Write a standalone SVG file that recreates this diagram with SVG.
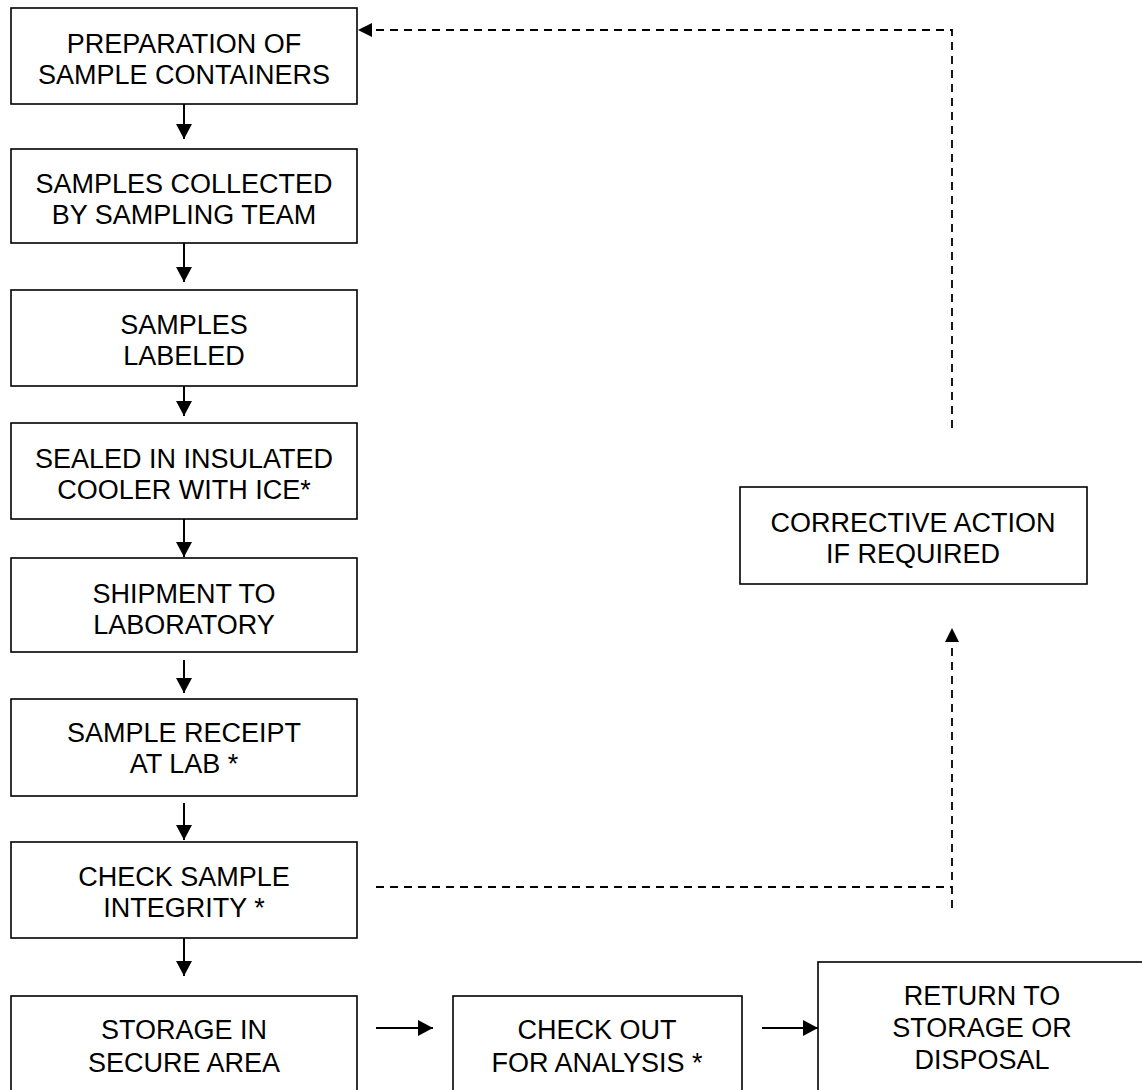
<svg xmlns="http://www.w3.org/2000/svg" width="1142" height="1090" viewBox="0 0 1142 1090">
<defs>
<style>
.box{fill:#fff;stroke:#000;stroke-width:1.6}
.t{font-family:"Liberation Sans",Arial,sans-serif;font-size:27px;fill:#000;text-anchor:middle}
.sol{stroke:#000;stroke-width:2;fill:none}
.dash{stroke:#000;stroke-width:1.8;fill:none;stroke-dasharray:8 6}
</style>
<marker id="ah" markerUnits="userSpaceOnUse" markerWidth="16" markerHeight="16" refX="15" refY="8" orient="auto" viewBox="0 0 16 16">
<path d="M0,0 L15,8 L0,16 z" fill="#000"/>
</marker>
<marker id="ahd" markerUnits="userSpaceOnUse" markerWidth="14" markerHeight="14" refX="14" refY="7" orient="auto" viewBox="0 0 14 14">
<path d="M0,0 L14,7 L0,14 z" fill="#000"/>
</marker>
</defs>
<rect width="1142" height="1090" fill="#fff"/>

<g id="n1"><rect class="box" x="11" y="8" width="346" height="96"/>
<text class="t" x="184" y="53">PREPARATION OF</text><text class="t" x="184" y="84">SAMPLE CONTAINERS</text></g>
<g id="n2"><rect class="box" x="11" y="149" width="346" height="94"/>
<text class="t" x="184" y="193">SAMPLES COLLECTED</text><text class="t" x="184" y="224">BY SAMPLING TEAM</text></g>
<g id="n3"><rect class="box" x="11" y="290" width="346" height="96"/>
<text class="t" x="184" y="334">SAMPLES</text><text class="t" x="184" y="365">LABELED</text></g>
<g id="n4"><rect class="box" x="11" y="423" width="346" height="96"/>
<text class="t" x="184" y="468">SEALED IN INSULATED</text><text class="t" x="184" y="499">COOLER WITH ICE*</text></g>
<g id="n5"><rect class="box" x="11" y="558" width="346" height="94"/>
<text class="t" x="184" y="603">SHIPMENT TO</text><text class="t" x="184" y="634">LABORATORY</text></g>
<g id="n6"><rect class="box" x="11" y="699" width="346" height="97"/>
<text class="t" x="184" y="742">SAMPLE RECEIPT</text><text class="t" x="184" y="773">AT LAB *</text></g>
<g id="n7"><rect class="box" x="11" y="842" width="346" height="96"/>
<text class="t" x="184" y="886">CHECK SAMPLE</text><text class="t" x="184" y="917">INTEGRITY *</text></g>
<g id="n8"><rect class="box" x="11" y="996" width="346" height="120"/>
<text class="t" x="184" y="1039">STORAGE IN</text><text class="t" x="184" y="1072">SECURE AREA</text></g>
<g id="n9"><rect class="box" x="453" y="996" width="289" height="120"/>
<text class="t" x="597" y="1039">CHECK OUT</text><text class="t" x="597" y="1072">FOR ANALYSIS *</text></g>
<g id="n10"><rect class="box" x="818" y="962" width="340" height="150"/>
<text class="t" x="982" y="1005">RETURN TO</text><text class="t" x="982" y="1037">STORAGE OR</text><text class="t" x="982" y="1069">DISPOSAL</text></g>
<g id="n11"><rect class="box" x="740" y="487" width="347" height="97"/>
<text class="t" x="913" y="532">CORRECTIVE ACTION</text><text class="t" x="913" y="563">IF REQUIRED</text></g>

<g id="connectors">
<line class="sol" x1="184" y1="104" x2="184" y2="139" marker-end="url(#ah)"/>
<line class="sol" x1="184" y1="243" x2="184" y2="282" marker-end="url(#ah)"/>
<line class="sol" x1="184" y1="386" x2="184" y2="416" marker-end="url(#ah)"/>
<line class="sol" x1="184" y1="519" x2="184" y2="557" marker-end="url(#ah)"/>
<line class="sol" x1="184" y1="660" x2="184" y2="693" marker-end="url(#ah)"/>
<line class="sol" x1="184" y1="803" x2="184" y2="840" marker-end="url(#ah)"/>
<line class="sol" x1="184" y1="938" x2="184" y2="976" marker-end="url(#ah)"/>
<line class="sol" x1="376" y1="1028" x2="433" y2="1028" marker-end="url(#ah)"/>
<line class="sol" x1="762" y1="1028" x2="818" y2="1028" marker-end="url(#ah)"/>
<polyline class="dash" points="376,887 952,887"/>
<polyline class="dash" points="952,908 952,628" marker-end="url(#ahd)"/>
<polyline class="dash" points="952,428 952,30 358,30" marker-end="url(#ahd)"/>
</g>
</svg>
